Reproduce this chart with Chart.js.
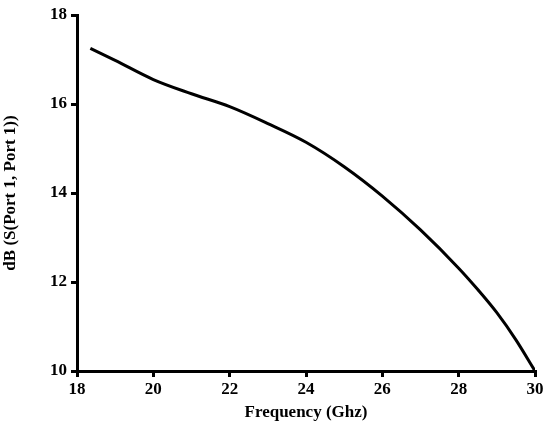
<!DOCTYPE html>
<html>
<head>
<meta charset="utf-8">
<script src="https://cdn.jsdelivr.net/npm/chart.js@4"></script>
<style>
  html, body { margin: 0; padding: 0; background: #fff; }
  #wrap { width: 551px; height: 427px; }
</style>
</head>
<body>
<div id="wrap"><canvas id="myChart" width="551" height="427"></canvas></div>
<script>
// values
const frequency = [18.35, 19, 20, 21, 22, 23, 24, 25, 26, 27, 28, 28.5, 29, 29.5, 30];
const dbS11 = [17.25, 16.98, 16.55, 16.23, 15.94, 15.56, 15.14, 14.59, 13.93, 13.17, 12.31, 11.83, 11.31, 10.70, 10.0];
const xTicks = [18, 20, 22, 24, 26, 28, 30];
const yTicks = [10, 12, 14, 16, 18];

const font = { family: '"Liberation Serif", "DejaVu Serif", serif', weight: 'bold', size: 17 };

const points = frequency.map((f, i) => ({ x: f, y: dbS11[i] }));

const ctx = document.getElementById('myChart').getContext('2d');

new Chart(ctx, {
    type: 'line',
    data: {
        datasets: [{
            data: points,
            borderColor: '#000',
            borderWidth: 3,
            pointRadius: 0,
            cubicInterpolationMode: 'monotone',
            fill: false
        }]
    },
    options: {
        responsive: false,
        animation: false,
        layout: { padding: { top: 15, right: 16, left: 0, bottom: 0 } },
        plugins: { legend: { display: false }, tooltip: { enabled: false } },
        scales: {
            x: {
                type: 'linear',
                min: xTicks[0],
                max: xTicks[xTicks.length - 1],
                afterBuildTicks: axis => { axis.ticks = xTicks.map(v => ({ value: v })); },
                afterFit: axis => { axis.height = 56; },
                ticks: { color: '#000', font: font, padding: 2, maxRotation: 0 },
                grid: { drawOnChartArea: false, color: '#000', lineWidth: 3, tickLength: 6 },
                border: { color: '#000', width: 3 },
                title: { display: true, text: 'Frequency (Ghz)', color: '#000', font: font, padding: { top: 0 } }
            },
            y: {
                min: yTicks[0],
                max: yTicks[yTicks.length - 1],
                afterBuildTicks: axis => { axis.ticks = yTicks.map(v => ({ value: v })); },
                afterFit: axis => { axis.width = 77; },
                ticks: { color: '#000', font: font, padding: 4 },
                grid: { drawOnChartArea: false, color: '#000', lineWidth: 3, tickLength: 6 },
                border: { color: '#000', width: 3 },
                title: { display: true, text: 'dB (S(Port 1, Port 1))', color: '#000', font: font, padding: 0 }
            }
        }
    }
});
</script>
</body>
</html>
